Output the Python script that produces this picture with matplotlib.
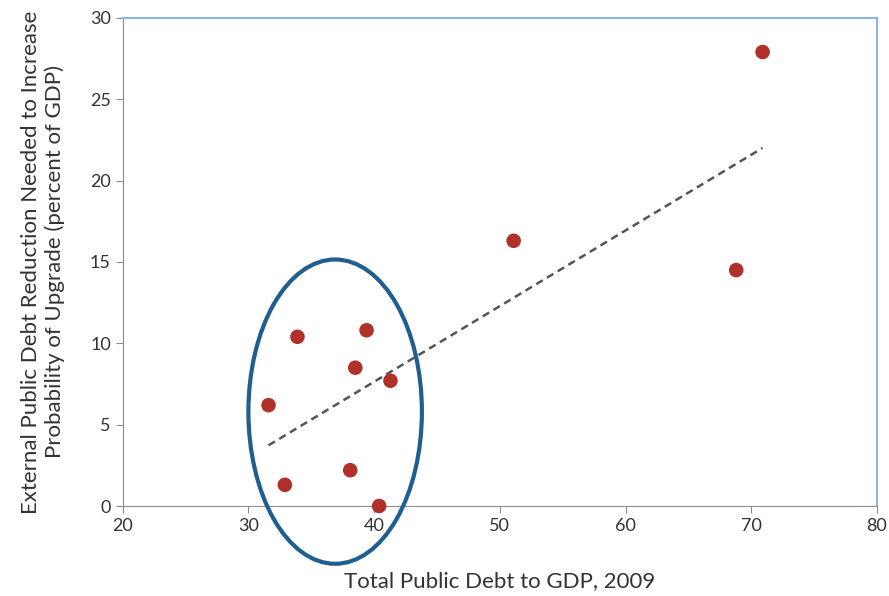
import numpy as np
import matplotlib.pyplot as plt
from matplotlib.patches import Ellipse

plt.rcParams['font.family'] = ['Lato', 'DejaVu Sans']

# Total public debt to GDP, 2009 vs external debt reduction needed
debt_to_gdp = [31.6, 32.9, 33.9, 38.1, 38.5, 39.4, 40.4, 41.3, 51.1, 68.8, 70.9]
reduction_needed = [6.2, 1.3, 10.4, 2.2, 8.5, 10.8, 0.0, 7.7, 16.3, 14.5, 27.9]

fig = plt.figure(figsize=(8.89, 5.96), dpi=100)
ax = fig.add_axes([0.138, 0.151, 0.8485, 0.819])

ax.scatter(debt_to_gdp, reduction_needed, s=110, color='#b0302a', zorder=3,
           clip_on=False, edgecolors='none')

# linear trend line
slope, intercept = np.polyfit(debt_to_gdp, reduction_needed, 1)
xs = np.array([min(debt_to_gdp), max(debt_to_gdp)])
ax.plot(xs, slope * xs + intercept, linestyle=(0, (3, 2)), color='#555555', lw=1.8)

# ellipse highlighting the low-debt cluster
ell = Ellipse((36.9, 5.8), 13.8, 18.7, fill=False, edgecolor='#1f5f8f', lw=3,
              clip_on=False, zorder=4)
ax.add_patch(ell)

ax.set_xlim(20, 80)
ax.set_ylim(0, 30)
ax.set_xticks(range(20, 81, 10))
ax.set_yticks(range(0, 31, 5))

for side in ['left', 'bottom']:
    ax.spines[side].set_color('#8c8c8c')
for side in ['top', 'right']:
    ax.spines[side].set_color('#8db3e2')
    ax.spines[side].set_linewidth(1.5)
ax.tick_params(direction='out', length=5, color='#8c8c8c', labelsize=13,
               labelcolor='#333333')

ax.set_xlabel('Total Public Debt to GDP, 2009', fontsize=16, color='#333333', labelpad=27)
ax.set_ylabel('External Public Debt Reduction Needed to Increase\n'
              'Probability of Upgrade (percent of GDP)', fontsize=16, color='#333333',
              labelpad=18)

fig.savefig('out.png', dpi=100)
